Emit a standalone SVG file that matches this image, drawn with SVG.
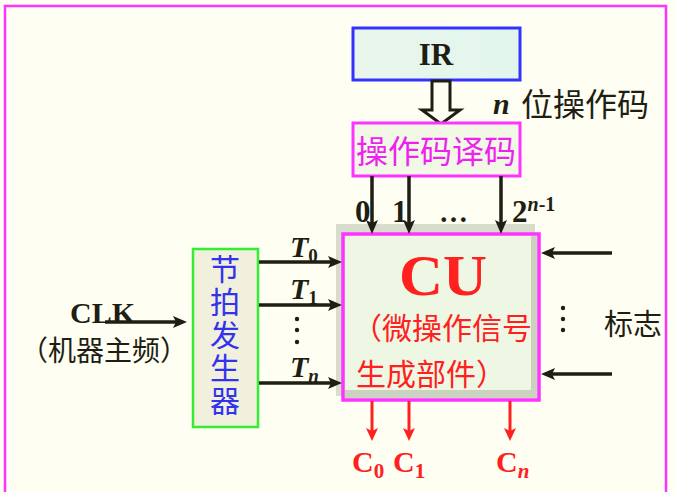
<svg xmlns="http://www.w3.org/2000/svg" width="675" height="492" viewBox="0 0 675 492">
<defs>
<marker id="ah" markerUnits="userSpaceOnUse" markerWidth="16" markerHeight="14" refX="5" refY="6" orient="auto">
<path d="M0,0 L14,6 L0,12 L3,6 z" fill="#1e1e14"/>
</marker>
<marker id="ahr" markerUnits="userSpaceOnUse" markerWidth="16" markerHeight="14" refX="5" refY="6" orient="auto">
<path d="M0,0 L13,6 L0,12 L3,6 z" fill="#ff2020"/>
</marker>
<linearGradient id="irg" x1="0" y1="0" x2="1" y2="0">
<stop offset="0" stop-color="#eaf6ec"/>
<stop offset="1" stop-color="#e2f6ee"/>
</linearGradient>
</defs>
<style>
.ln{stroke:#1e1e14;stroke-width:3.5;fill:none;marker-end:url(#ah)}
.rl{stroke:#ff2020;stroke-width:3;fill:none;marker-end:url(#ahr)}
.lat{font-family:"Liberation Serif","Times New Roman",serif;font-weight:bold;fill:#1e1e14}
.cjk{font-family:"Noto Sans CJK SC","Noto Sans",sans-serif;fill:#1e1e14}
.red{fill:#ff2020}
</style>
<rect x="0" y="0" width="675" height="492" fill="#fefef2"/>
<rect x="5" y="6" width="661" height="500" fill="none" stroke="#ff33ff" stroke-width="2.5"/>

<g id="ir">
<rect x="353" y="28" width="167" height="52" fill="url(#irg)" stroke="#3333ff" stroke-width="3"/>
<text x="436" y="65" class="lat" font-size="31" text-anchor="middle">IR</text>
</g>

<g id="bus-arrow">
<polygon points="432,81 450,81 450,110 460,110 441,124 422,110 432,110" fill="#fefef2" stroke="#1e1e14" stroke-width="3" stroke-linejoin="miter"/>
</g>

<g id="n-label">
<text x="493" y="114" class="lat" font-size="30" font-style="italic">n</text>
<text x="521" y="116" class="cjk" font-size="32">位操作码</text>
</g>

<g id="decoder">
<rect x="353" y="123" width="167" height="53" fill="#f2f8e6" stroke="#ff33ff" stroke-width="3"/>
<text x="436" y="163" class="cjk" font-size="32" style="fill:#ee22ee" text-anchor="middle">操作码译码</text>
</g>

<g id="cu">
<rect x="336" y="224" width="199" height="172" fill="#d8dccd"/>
<rect x="343" y="234" width="196" height="166" fill="#eef7e3"/>
<rect x="531" y="236" width="6" height="162" fill="#cbd2bf"/>
<rect x="345" y="390" width="192" height="8" fill="#cbd2bf"/>
<rect x="343" y="234" width="196" height="166" fill="none" stroke="#ff33ff" stroke-width="3.5"/>
<text x="443" y="295" class="lat red" font-size="56" text-anchor="middle" textLength="88" lengthAdjust="spacingAndGlyphs" style="fill:#ff2020">CU</text>
<text x="352" y="339" class="cjk red" font-size="30" style="fill:#ff2020">（微操作信号</text>
<text x="356" y="385" class="cjk red" font-size="30" style="fill:#ff2020">生成部件）</text>
</g>

<g id="timer">
<rect x="193" y="249" width="65" height="178" fill="#f0f0dc" stroke="#33ee33" stroke-width="2.5"/>
<text x="225" y="254" class="cjk" font-size="30" style="fill:#3333ee;writing-mode:vertical-rl" letter-spacing="3">节拍发生器</text>
</g>

<g id="clk">
<text x="70" y="323" class="lat" font-size="30">CLK</text>
<text x="20" y="361" class="cjk" font-size="28">（机器主频）</text>
</g>

<g id="flags">
<circle cx="563" cy="308" r="2.2" fill="#1e1e14"/>
<circle cx="563" cy="319" r="2.2" fill="#1e1e14"/>
<circle cx="563" cy="330" r="2.2" fill="#1e1e14"/>
<text x="604" y="335" class="cjk" font-size="29">标志</text>
</g>

<g id="labels">
<text x="355" y="222" class="lat" font-size="31">0</text>
<text x="392" y="222" class="lat" font-size="31">1</text>
<text x="439" y="222" class="lat" font-size="29">…</text>
<text x="512" y="222" class="lat" font-size="31">2<tspan font-size="20" dy="-11" font-style="italic">n</tspan><tspan font-size="20">-1</tspan></text>
<text x="290" y="257" class="lat" font-size="30" font-style="italic">T<tspan font-size="19" dy="5" font-style="normal">0</tspan></text>
<text x="290" y="299" class="lat" font-size="30" font-style="italic">T<tspan font-size="19" dy="5" font-style="normal">1</tspan></text>
<circle cx="297" cy="319" r="2.2" fill="#1e1e14"/>
<circle cx="297" cy="330" r="2.2" fill="#1e1e14"/>
<circle cx="297" cy="342" r="2.2" fill="#1e1e14"/>
<text x="290" y="377" class="lat" font-size="30" font-style="italic">T<tspan font-size="19" dy="5">n</tspan></text>
<text x="352" y="472" class="lat" font-size="30" style="fill:#ff2020">C<tspan font-size="21" dy="6">0</tspan></text>
<text x="393" y="472" class="lat" font-size="30" style="fill:#ff2020">C<tspan font-size="21" dy="6">1</tspan></text>
<text x="496" y="472" class="lat" font-size="30" style="fill:#ff2020">C<tspan font-size="21" dy="6" font-style="italic">n</tspan></text>
</g>

<g id="connectors">
<line x1="372" y1="176" x2="372" y2="225" class="ln"/>
<line x1="409" y1="176" x2="409" y2="225" class="ln"/>
<line x1="501" y1="176" x2="501" y2="225" class="ln"/>
<line x1="259" y1="262" x2="333" y2="262" class="ln"/>
<line x1="259" y1="305" x2="333" y2="305" class="ln"/>
<line x1="259" y1="383" x2="333" y2="383" class="ln"/>
<line x1="105" y1="322" x2="178" y2="322" class="ln"/>
<line x1="612" y1="253" x2="550" y2="253" class="ln"/>
<line x1="612" y1="374" x2="550" y2="374" class="ln"/>
<line x1="372" y1="401" x2="372" y2="433" class="rl"/>
<line x1="409" y1="401" x2="409" y2="433" class="rl"/>
<line x1="510" y1="401" x2="510" y2="433" class="rl"/>
</g>
</svg>
